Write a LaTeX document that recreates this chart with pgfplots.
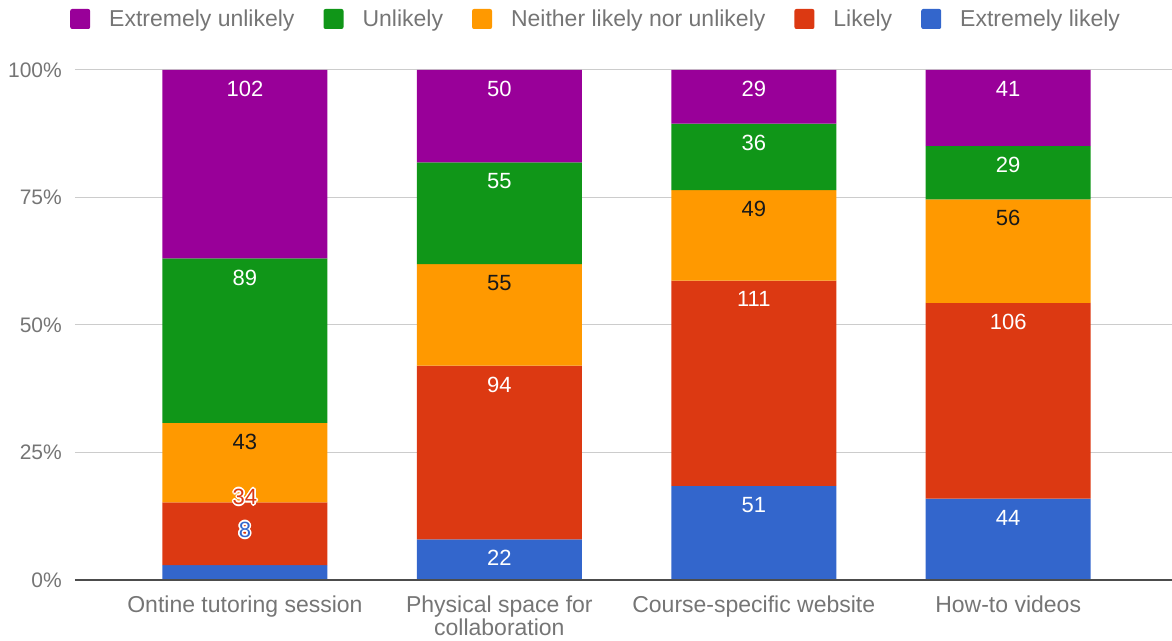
\documentclass[border=0pt]{standalone}
\usepackage{pgfplots}
\pgfplotsset{compat=1.18}
\usepackage{pgfplotstable}
\usepackage{fontspec}
\setmainfont{Liberation Sans}
\definecolor{cEU}{HTML}{990099}
\definecolor{cU}{HTML}{109618}
\definecolor{cN}{HTML}{FF9900}
\definecolor{cL}{HTML}{DC3912}
\definecolor{cEL}{HTML}{3366CC}
\definecolor{lbl}{HTML}{757575}
\definecolor{gridc}{HTML}{CCCCCC}

% counts; label columns elt/lt leave the crowded first bar empty
\pgfplotstableread{
x el l n u eu elt lt
0 8 34 43 89 102 {} {}
1 22 94 55 55 50 22 94
2 51 111 49 36 29 51 111
3 44 106 56 29 41 44 106
}\data

\newcommand\hs[3]{\makebox[0pt][l]{\kern#1\raisebox{#2}{\textcolor{white}{#3}}}}
\newcommand\halo[2]{\hs{-1.6pt}{0pt}{#2}\hs{1.6pt}{0pt}{#2}\hs{0pt}{1.6pt}{#2}\hs{0pt}{-1.6pt}{#2}\hs{-1.1pt}{1.1pt}{#2}\hs{1.1pt}{1.1pt}{#2}\hs{-1.1pt}{-1.1pt}{#2}\hs{1.1pt}{-1.1pt}{#2}\textcolor{#1}{#2}}

\pgfplotsset{
  bars/.style={ybar stacked, bar width=165pt, draw=none, fill=#1,
    legend image code/.code={\fill[fill=#1, draw=none, rounded corners=2pt] (0pt,-10pt) rectangle (20pt,10pt); \path (39pt,0pt);}},
  lab/.style={forget plot, stack plots=false, only marks, mark=none, point meta=explicit symbolic,
    nodes near coords={\pgfplotspointmeta},
    every node near coord/.append style={anchor=north, yshift=-11pt, inner sep=0pt, font=\fontsize{22}{22}\selectfont, text=#1}},
  halolab/.style={forget plot, stack plots=false, only marks, mark=none, point meta=explicit symbolic,
    nodes near coords={\halo{#1}{\pgfplotspointmeta}},
    every node near coord/.append style={anchor=center, inner sep=0pt, font=\fontsize{22}{22}\selectfont}},
}

\begin{document}
\begin{tikzpicture}
\useasboundingbox (-75pt,-60pt) rectangle (1097pt,580pt);
\begin{axis}[
  scale only axis, width=1097pt, height=510pt,
  xmin=-0.668, xmax=3.644, ymin=0, ymax=100, clip=false,
  axis line style={draw=none}, major tick length=0pt,
  ytick={0,25,50,75,100},
  yticklabel={\pgfmathprintnumber{\tick}\%},
  /pgf/number format/assume math mode=true,
  yticklabel style={font=\fontsize{21}{21}\selectfont, text=lbl, inner sep=0pt, xshift=-13pt},
  ymajorgrids, grid style={draw=gridc, line width=1pt},
  xtick={0,1,2,3},
  xticklabels={Ontine tutoring session, {Physical space for\\collaboration}, Course-specific website, How-to videos},
  xticklabel style={font=\fontsize{23}{23}\selectfont, text=lbl, align=center, inner sep=0pt, yshift=-16pt},
  reverse legend,
  legend columns=-1,
  legend style={at={(0,1)}, anchor=west, xshift=-5pt, yshift=51pt, draw=none, fill=none, inner sep=0pt,
    font=\fontsize{23}{23}\selectfont, text=lbl,
    nodes={inner xsep=0pt, inner ysep=2pt},
    /tikz/every even column/.append style={column sep=29pt}},
]
\addplot[bars=cEL] table[x=x, y expr=\thisrow{el}/2.76]{\data};
\addlegendentry{Extremely likely}
\addplot[bars=cL] table[x=x, y expr=\thisrow{l}/2.76]{\data};
\addlegendentry{Likely}
\addplot[bars=cN] table[x=x, y expr=\thisrow{n}/2.76]{\data};
\addlegendentry{Neither likely nor unlikely}
\addplot[bars=cU] table[x=x, y expr=\thisrow{u}/2.76]{\data};
\addlegendentry{Unlikely}
\addplot[bars=cEU] table[x=x, y expr=\thisrow{eu}/2.76]{\data};
\addlegendentry{Extremely unlikely}
% value labels near the top of each segment
\addplot[lab=white] table[x=x, y expr=\thisrow{el}/2.76, meta=elt]{\data};
\addplot[lab=white] table[x=x, y expr=(\thisrow{el}+\thisrow{l})/2.76, meta=lt]{\data};
\addplot[lab=black!90] table[x=x, y expr=(\thisrow{el}+\thisrow{l}+\thisrow{n})/2.76, meta=n]{\data};
\addplot[lab=white] table[x=x, y expr=(\thisrow{el}+\thisrow{l}+\thisrow{n}+\thisrow{u})/2.76, meta=u]{\data};
\addplot[lab=white] table[x=x, y expr=(\thisrow{el}+\thisrow{l}+\thisrow{n}+\thisrow{u}+\thisrow{eu})/2.76, meta=eu]{\data};
\addplot[halolab=cL] coordinates {(0,16.27) [34]};
\addplot[halolab=cEL] coordinates {(0,9.80) [8]};
\draw[color=black!70, line width=1.5pt] (rel axis cs:0,0) -- (rel axis cs:1,0);
\end{axis}
\end{tikzpicture}
\end{document}
